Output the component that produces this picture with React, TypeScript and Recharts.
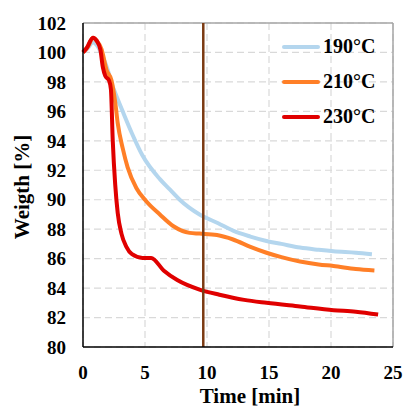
import {
  LineChart,
  Line,
  XAxis,
  YAxis,
  CartesianGrid,
  ReferenceLine,
  Legend,
} from "recharts";

// 190°C
const time190 = [0, 0.4, 0.8, 1.2, 1.6, 2.0, 2.3, 2.6, 3.2, 3.95, 4.8, 6.2, 7.0, 7.8, 9.4, 10.9, 12.1, 13.5, 14.8, 16, 17.5, 19, 20.2, 22, 23.3];
const weight190 = [100, 100.3, 100.7, 100.4, 99.7, 98.8, 97.9, 97.25, 96.0, 94.5, 93.0, 91.4, 90.7, 90.0, 89.0, 88.4, 87.9, 87.5, 87.2, 87.0, 86.75, 86.6, 86.5, 86.4, 86.3];

// 210°C
const time210 = [0, 0.4, 0.8, 1.1, 1.5, 1.9, 2.3, 2.6, 2.8, 3.2, 3.6, 4.3, 5.1, 6.2, 7.3, 8.6, 9.4, 10.8, 12.1, 13.5, 14.8, 16, 17.5, 19, 20.2, 22, 23.5];
const weight210 = [100, 100.4, 101.0, 100.8, 100.2, 98.8, 98.1, 96.6, 95.2, 93.5, 92.2, 90.8, 89.9, 89.0, 88.2, 87.75, 87.7, 87.6, 87.3, 86.8, 86.4, 86.1, 85.8, 85.6, 85.5, 85.3, 85.2];

// 230°C
const time230 = [0, 0.3, 0.8, 1.1, 1.4, 1.6, 1.8, 2.1, 2.25, 2.4, 2.6, 2.8, 3.1, 3.5, 3.95, 4.8, 5.5, 6.5, 7.6, 9.4, 11, 13, 14.8, 17.5, 20.2, 22, 23.8];
const weight230 = [100, 100.3, 101.0, 100.8, 100.2, 99.0, 98.4, 98.1, 97.5, 94.0, 91.0, 89.1, 87.7, 86.8, 86.3, 86.05, 86.05, 85.2, 84.55, 83.9, 83.55, 83.2, 83.0, 82.75, 82.5, 82.4, 82.2];

const xTicks = [0, 5, 10, 15, 20, 25];
const yTicks = [80, 82, 84, 86, 88, 90, 92, 94, 96, 98, 100, 102];
const markerTime = 9.7;

const series = [
  { name: "190°C", color: "#B4D6EE", data: time190.map((t, i) => ({ time: t, w: weight190[i] })) },
  { name: "210°C", color: "#FF7F27", data: time210.map((t, i) => ({ time: t, w: weight210[i] })) },
  { name: "230°C", color: "#E00000", data: time230.map((t, i) => ({ time: t, w: weight230[i] })) },
];

const font = '"Liberation Serif", "Times New Roman", serif';
const tickStyle = { fontFamily: font, fontSize: 19, fontWeight: "bold", fill: "#000" };

const renderLegend = () => (
  <div>
    {series.map((s) => (
      <div key={s.name} style={{ display: "flex", alignItems: "center", height: 35 }}>
        <div style={{ width: 38, height: 4, background: s.color, borderRadius: 2 }} />
        <span style={{ marginLeft: 3, fontFamily: font, fontWeight: "bold", fontSize: 20, color: "#000" }}>
          {s.name}
        </span>
      </div>
    ))}
  </div>
);

export default function App() {
  return (
    <div style={{ position: "absolute", left: 0, top: 0, background: "#fff" }}>
      <LineChart width={406} height={410} margin={{ top: 23, right: 13, bottom: 0, left: 0 }}>
        <CartesianGrid stroke="#D9D9D9" strokeDasharray="7 4" strokeWidth={1.2} />
        <XAxis
          dataKey="time"
          type="number"
          domain={[0, 25]}
          ticks={xTicks}
          height={63}
          tickLine={false}
          tickSize={6}
          tickMargin={13}
          stroke="#000"
          strokeWidth={1.5}
          tick={tickStyle}
          allowDuplicatedCategory={false}
          label={({ viewBox }: any) => (
            <text
              x={viewBox.x + viewBox.width / 2 + 12}
              y={viewBox.y + 56}
              textAnchor="middle"
              fontFamily={font}
              fontSize={21}
              fontWeight="bold"
              fill="#000"
            >
              Time [min]
            </text>
          )}
        />
        <YAxis
          type="number"
          domain={[80, 102]}
          ticks={yTicks}
          width={83}
          tickLine={false}
          tickSize={6}
          tickMargin={11}
          stroke="#000"
          strokeWidth={1.5}
          tick={tickStyle}
          label={({ viewBox }: any) => {
            const cx = viewBox.x + 22;
            const cy = viewBox.y + viewBox.height / 2 + 2;
            return (
              <text
                x={cx}
                y={cy}
                transform={`rotate(-90 ${cx} ${cy})`}
                textAnchor="middle"
                dominantBaseline="central"
                fontFamily={font}
                fontSize={21}
                fontWeight="bold"
                fill="#000"
              >
                Weigth [%]
              </text>
            );
          }}
        />
        <ReferenceLine y={102} stroke="#A6A6A6" strokeWidth={1.5} />
        <ReferenceLine x={25} stroke="#A6A6A6" strokeWidth={1.5} />
        {series.map((s) => (
          <Line
            key={s.name}
            data={s.data}
            dataKey="w"
            name={s.name}
            type="monotone"
            stroke={s.color}
            strokeWidth={4}
            dot={false}
            isAnimationActive={false}
          />
        ))}
        <ReferenceLine x={markerTime} stroke="#7B3A12" strokeWidth={2.5} />
        <Legend
          content={renderLegend}
          layout="vertical"
          align="center"
          verticalAlign="middle"
          wrapperStyle={{ left: 282, top: 29, width: 115, height: 105 }}
        />
      </LineChart>
    </div>
  );
}
